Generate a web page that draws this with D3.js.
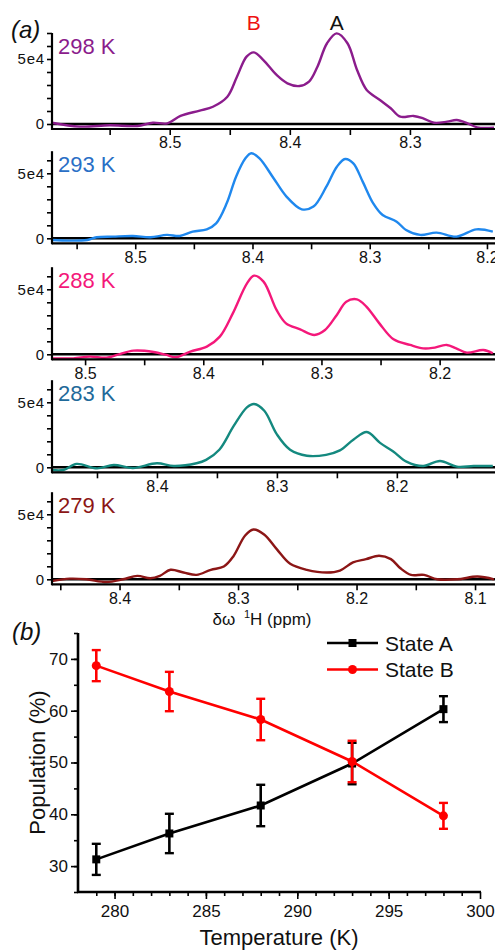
<!DOCTYPE html>
<html>
<head>
<meta charset="utf-8">
<script src="https://cdn.jsdelivr.net/npm/d3@7"></script>
<style>
  html, body { margin: 0; padding: 0; background: #fff; }
  svg { display: block; }
</style>
</head>
<body>
<script>
// ---- data: spectra (ppm, intensity) ----
const spectrumLabels = ["298 K", "293 K", "288 K", "283 K", "279 K"];

const ppm298 = [8.598, 8.575, 8.550, 8.527, 8.514, 8.502, 8.491, 8.475, 8.464, 8.452, 8.444, 8.436, 8.430, 8.422, 8.411, 8.402, 8.392, 8.384, 8.377, 8.369, 8.361, 8.352, 8.344, 8.336, 8.325, 8.316, 8.308, 8.297, 8.289, 8.280, 8.269, 8.261, 8.252, 8.244, 8.230];
const int298 = [1000, -2000, -1000, -1500, 1000, 500, 6200, 10300, 13300, 21000, 36400, 51800, 55100, 49200, 37700, 31300, 29200, 32600, 44100, 62100, 69700, 62100, 41500, 26200, 18500, 12100, 5600, 6200, 4400, 1000, 1800, 3100, 500, -2600, -2800];

const ppm293 = [8.571, 8.556, 8.541, 8.533, 8.519, 8.502, 8.487, 8.473, 8.462, 8.451, 8.439, 8.431, 8.422, 8.414, 8.406, 8.401, 8.394, 8.382, 8.371, 8.358, 8.348, 8.337, 8.328, 8.321, 8.314, 8.306, 8.297, 8.289, 8.277, 8.269, 8.257, 8.243, 8.226, 8.209, 8.195];
const int293 = [-1300, -1800, -1300, 800, 1300, 1800, 800, 2600, 1800, 5100, 6900, 11500, 26900, 47400, 61500, 65400, 61500, 46200, 32100, 22300, 24400, 39700, 55100, 61000, 57700, 43600, 26900, 17900, 12800, 6400, 2600, 4400, 1300, 6900, 5100];

const ppm288 = [8.528, 8.510, 8.496, 8.482, 8.473, 8.459, 8.442, 8.431, 8.423, 8.411, 8.397, 8.386, 8.375, 8.363, 8.357, 8.349, 8.338, 8.330, 8.318, 8.306, 8.297, 8.287, 8.279, 8.270, 8.262, 8.251, 8.239, 8.225, 8.214, 8.206, 8.194, 8.186, 8.177, 8.163, 8.155];
const int288 = [-3100, -3100, -1800, -2600, -500, 2800, 1800, -500, -2300, 2100, 5900, 13600, 31500, 54600, 60500, 55900, 34100, 23800, 19200, 14900, 18700, 30300, 40500, 42300, 36700, 23800, 11500, 7200, 4600, 4900, 7200, 4600, 1300, 3300, 800];

const ppm283 = [8.4875, 8.478, 8.467, 8.450, 8.436, 8.420, 8.400, 8.386, 8.367, 8.359, 8.348, 8.336, 8.325, 8.319, 8.3105, 8.300, 8.289, 8.275, 8.259, 8.2475, 8.236, 8.225, 8.214, 8.203, 8.192, 8.178, 8.164, 8.150, 8.136, 8.120];
const int283 = [-2100, -2100, 2600, -800, 1800, -500, 3100, 1000, 3100, 5700, 13500, 31800, 46100, 48700, 43500, 25300, 13500, 8900, 9600, 13000, 21400, 27100, 18800, 12200, 4400, 1000, 4900, 500, 1000, 1000];

const ppm279 = [8.457, 8.442, 8.428, 8.411, 8.397, 8.385, 8.374, 8.366, 8.357, 8.346, 8.335, 8.323, 8.312, 8.304, 8.294, 8.287, 8.278, 8.267, 8.256, 8.242, 8.225, 8.214, 8.203, 8.192, 8.181, 8.171, 8.163, 8.154, 8.143, 8.132, 8.115, 8.098, 8.084];
const int279 = [-1300, 500, 0, -2100, 0, 2600, 800, 2600, 7300, 5200, 3400, 7300, 9800, 17600, 33700, 38300, 34500, 22800, 11900, 7300, 5200, 6700, 13000, 15500, 18100, 15500, 8500, 3400, 3400, 0, 0, 2100, 0];

// ---- data: populations ----
const temps = [279, 283, 288, 293, 298];
const stateA = [31.3, 36.3, 41.7, 49.8, 60.3];
const stateB = [68.7, 63.7, 58.3, 50.2, 39.7];
const errA = [3.0, 3.8, 4.0, 4.0, 2.5];
const errB = [3.0, 3.8, 4.0, 4.0, 2.5];

const tempTicks = [280, 285, 290, 295, 300];
const popTicks = [30, 40, 50, 60, 70];

// ---- layout ----
const W = 495, H = 950;
const font = "'Liberation Sans', Arial, Helvetica, sans-serif";
const svg = d3.select("body").append("svg").attr("width", W).attr("height", H);

const spectra = [
  { ppm: ppm298, val: int298 },
  { ppm: ppm293, val: int293 },
  { ppm: ppm288, val: int288 },
  { ppm: ppm283, val: int283 },
  { ppm: ppm279, val: int279 }
];

// per-panel geometry and colours
const panels = [
  { zero: 124,   left: 8.598,  right: 8.230, ymax: 70000, line: "#8b1c8c", text: "#8b1c8c" },
  { zero: 238.3, left: 8.571,  right: 8.194, ymax: 67000, line: "#1f88ee", text: "#2a6fc6" },
  { zero: 354.3, left: 8.528,  right: 8.154, ymax: 67000, line: "#f4187a", text: "#f4187a" },
  { zero: 467.3, left: 8.4875, right: 8.119, ymax: 67000, line: "#14897f", text: "#1f6a9a" },
  { zero: 579.3, left: 8.457,  right: 8.084, ymax: 67000, line: "#8c1616", text: "#8c1616" }
];
const pxPer1e4 = 13;
const xL = 52, xR = 494;

function styleAxis(g, size) {
  g.selectAll("text").attr("font-family", font).attr("font-size", size).attr("fill", "#111");
  g.selectAll("line").attr("stroke", "#000").attr("stroke-width", 1.6);
}

spectra.forEach((s, i) => {
  const p = panels[i];
  const x = d3.scaleLinear().domain([p.left, p.right]).range([xL, xR]);
  const y = d3.scaleLinear().domain([0, 10000]).range([p.zero, p.zero - pxPer1e4]);
  const axisY = p.zero + 5;
  const g = svg.append("g");

  // zero line
  g.append("line")
    .attr("x1", xL).attr("x2", W).attr("y1", p.zero).attr("y2", p.zero)
    .attr("stroke", "#000").attr("stroke-width", 2.4);

  // spectrum
  const line = d3.line().x(d => x(d[0])).y(d => y(d[1])).curve(d3.curveCatmullRom.alpha(0.5));
  g.append("path")
    .datum(d3.zip(s.ppm, s.val))
    .attr("d", line)
    .attr("fill", "none")
    .attr("stroke", p.line)
    .attr("stroke-width", 2.4)
    .attr("stroke-linejoin", "round");

  // x axis
  const xt = d3.range(Math.ceil(p.right * 20 - 1e-9), Math.floor(p.left * 20 + 1e-9) + 1).map(k => k / 20);
  const xa = g.append("g")
    .attr("transform", `translate(0,${axisY})`)
    .call(d3.axisBottom(x).tickValues(xt).tickSize(6).tickSizeOuter(0).tickPadding(2)
      .tickFormat(d => Math.abs(d * 10 - Math.round(d * 10)) < 1e-6 ? d3.format(".1f")(d) : ""));
  xa.select(".domain").remove();
  styleAxis(xa, 16);
  g.append("line")
    .attr("x1", xL).attr("x2", W).attr("y1", axisY).attr("y2", axisY)
    .attr("stroke", "#000").attr("stroke-width", 2.2);

  // y axis
  const ya = g.append("g")
    .attr("transform", `translate(${xL},0)`)
    .call(d3.axisLeft(y).tickValues(d3.range(0, p.ymax + 1, 10000)).tickSize(5).tickPadding(2)
      .tickFormat(d => d === 0 ? "0" : d === 50000 ? "5e4" : ""));
  ya.select(".domain").remove();
  styleAxis(ya, 15);
  ya.selectAll("text").attr("letter-spacing", 0.8);
  g.append("line")
    .attr("x1", xL).attr("x2", xL).attr("y1", y(p.ymax)).attr("y2", axisY + 1)
    .attr("stroke", "#000").attr("stroke-width", 2.2);

  // temperature label
  g.append("text")
    .attr("x", 58).attr("y", y(p.ymax) + 20.5)
    .attr("font-family", font).attr("font-size", 22)
    .attr("fill", p.text)
    .text(spectrumLabels[i]);

  // peak letters on the top panel
  if (i === 0) {
    g.append("text").attr("x", x(8.43)).attr("y", 30).attr("text-anchor", "middle")
      .attr("font-family", font).attr("font-size", 21).attr("fill", "#ee1111").text("B");
    g.append("text").attr("x", x(8.361)).attr("y", 30).attr("text-anchor", "middle")
      .attr("font-family", font).attr("font-size", 21).attr("fill", "#111").text("A");
  }
});

// panel letters & x label for (a)
svg.append("text").attr("x", 11).attr("y", 38)
  .attr("font-family", font).attr("font-size", 24).attr("font-style", "italic").attr("fill", "#111").text("(a)");

const xlab = svg.append("text").attr("x", 262).attr("y", 625).attr("text-anchor", "middle")
  .attr("font-family", font).attr("font-size", 17).attr("fill", "#111");
xlab.append("tspan").text("δω ");
xlab.append("tspan").attr("font-size", 11).attr("dy", -7).attr("dx", 4).text("1");
xlab.append("tspan").attr("dy", 7).text("H (ppm)");

// ---- panel (b) ----
const bx = d3.scaleLinear().domain([278, 300]).range([78, 480]);
const by = d3.scaleLinear().domain([25, 75]).range([892, 633]);
const gb = svg.append("g");

svg.append("text").attr("x", 12).attr("y", 640)
  .attr("font-family", font).attr("font-size", 24).attr("font-style", "italic").attr("fill", "#111").text("(b)");

// x axis
const bxMinor = gb.append("g").attr("transform", `translate(0,${by(25)})`)
  .call(d3.axisBottom(bx).tickValues(d3.range(279, 300, 1)).tickSize(4).tickFormat(""));
bxMinor.select(".domain").remove();
styleAxis(bxMinor, 17);
const bxMajor = gb.append("g").attr("transform", `translate(0,${by(25)})`)
  .call(d3.axisBottom(bx).tickValues(tempTicks).tickSize(7).tickPadding(6));
bxMajor.select(".domain").remove();
styleAxis(bxMajor, 17);
gb.append("line").attr("x1", bx(278) - 1).attr("x2", bx(300) + 1).attr("y1", by(25)).attr("y2", by(25))
  .attr("stroke", "#000").attr("stroke-width", 2.6);

// y axis
const byMinor = gb.append("g").attr("transform", `translate(${bx(278)},0)`)
  .call(d3.axisLeft(by).tickValues(d3.range(25, 76, 5)).tickSize(4).tickFormat(""));
byMinor.select(".domain").remove();
styleAxis(byMinor, 17);
const byMajor = gb.append("g").attr("transform", `translate(${bx(278)},0)`)
  .call(d3.axisLeft(by).tickValues(popTicks).tickSize(7).tickPadding(3));
byMajor.select(".domain").remove();
styleAxis(byMajor, 17);
gb.append("line").attr("x1", bx(278)).attr("x2", bx(278)).attr("y1", by(75)).attr("y2", by(25) + 1)
  .attr("stroke", "#000").attr("stroke-width", 2.6);

// axis titles
svg.append("text").attr("x", 279).attr("y", 945).attr("text-anchor", "middle")
  .attr("font-family", font).attr("font-size", 22).attr("fill", "#111").text("Temperature (K)");
svg.append("text").attr("transform", `translate(45,${(by(25) + by(75)) / 2}) rotate(-90)`)
  .attr("text-anchor", "middle")
  .attr("font-family", font).attr("font-size", 22).attr("fill", "#111").text("Population (%)");

// series
const series = [
  { name: "State A", vals: stateA, err: errA, color: "#000", shape: "square" },
  { name: "State B", vals: stateB, err: errB, color: "#ff0000", shape: "circle" }
];
const popLine = d3.line().x(d => bx(d[0])).y(d => by(d[1]));

series.forEach(s => {
  const pts = d3.zip(temps, s.vals, s.err);
  const sg = gb.append("g");
  sg.append("path").datum(pts).attr("d", popLine)
    .attr("fill", "none").attr("stroke", s.color).attr("stroke-width", 2.6);
  // error bars
  const eb = sg.selectAll(".eb").data(pts).enter().append("g");
  eb.append("line").attr("x1", d => bx(d[0])).attr("x2", d => bx(d[0]))
    .attr("y1", d => by(d[1] - d[2])).attr("y2", d => by(d[1] + d[2]))
    .attr("stroke", s.color).attr("stroke-width", 2.6);
  [-1, 1].forEach(sign => {
    eb.append("line").attr("x1", d => bx(d[0]) - 4.5).attr("x2", d => bx(d[0]) + 4.5)
      .attr("y1", d => by(d[1] + sign * d[2])).attr("y2", d => by(d[1] + sign * d[2]))
      .attr("stroke", s.color).attr("stroke-width", 2.4);
  });
  // markers
  if (s.shape === "square") {
    sg.selectAll(".m").data(pts).enter().append("rect")
      .attr("x", d => bx(d[0]) - 4).attr("y", d => by(d[1]) - 4)
      .attr("width", 8).attr("height", 8).attr("fill", s.color);
  } else {
    sg.selectAll(".m").data(pts).enter().append("circle")
      .attr("cx", d => bx(d[0])).attr("cy", d => by(d[1])).attr("r", 4.5).attr("fill", s.color);
  }
});

// legend
const leg = gb.append("g");
series.forEach((s, i) => {
  const ly = 643 + i * 26.5;
  leg.append("line").attr("x1", 327).attr("x2", 378).attr("y1", ly).attr("y2", ly)
    .attr("stroke", s.color).attr("stroke-width", 2.6);
  if (s.shape === "square") {
    leg.append("rect").attr("x", 348.5).attr("y", ly - 4).attr("width", 8).attr("height", 8).attr("fill", s.color);
  } else {
    leg.append("circle").attr("cx", 352.5).attr("cy", ly).attr("r", 4.5).attr("fill", s.color);
  }
  leg.append("text").attr("x", 385).attr("y", ly + 7.5)
    .attr("font-family", font).attr("font-size", 21).attr("fill", "#111").text(s.name);
});
</script>
</body>
</html>
